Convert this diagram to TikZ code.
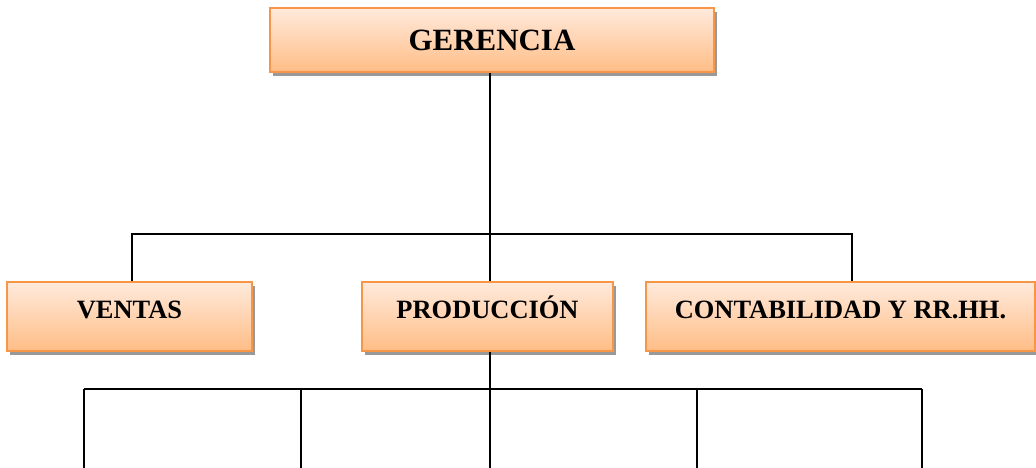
\documentclass[tikz,border=0pt]{standalone}
\usepackage{fontspec}
\setmainfont{Liberation Serif}
\usetikzlibrary{shadows}

\definecolor{borde}{HTML}{F79646}
\definecolor{claro}{HTML}{FFEADC}
\definecolor{oscuro}{HTML}{FFBD86}

\tikzset{
	unidad/.style={shape=rectangle,draw=borde,line width=1.3pt,top color=claro,bottom color=oscuro,
		drop shadow={shadow xshift=2pt,shadow yshift=-2.5pt,fill=black!40,opacity=1},
		inner sep=0pt,font=\bfseries\fontsize{18.8}{22}\selectfont,text height=0.43cm,text depth=0.35cm},
	linea/.style={draw=black,line width=1.2pt}
}

\begin{document}
\begin{tikzpicture}
	\useasboundingbox (0,0) rectangle (25.9,-11.7);

	\node [unidad,minimum width=11.1cm,minimum height=1.6cm,font=\bfseries\fontsize{22}{26}\selectfont,text height=0.51cm,text depth=0cm] (G) at (12.3,-1) {GERENCIA};
	\node [unidad,minimum width=6.125cm,minimum height=1.725cm] (V) at (3.2375,-7.9125) {VENTAS};
	\node [unidad,minimum width=6.275cm,minimum height=1.725cm] (P) at (12.1875,-7.9125) {PRODUCCIÓN};
	\node [unidad,minimum width=9.725cm,minimum height=1.725cm] (C) at (21.0125,-7.9125) {CONTABILIDAD Y RR.HH.};

	% ramas de gerencia
	\coordinate (cG) at (12.25,-5.85);
	\coordinate (cV) at (3.3,-5.85);
	\coordinate (cC) at (21.3,-5.85);
	\path [linea] (cG |- G.south) -- (cG);
	\path [linea] (cV |- V.north) -- (cV) -- (cC) -- (cC |- C.north);
	\path [linea] (cG) -- (cG |- P.north);

	% ramas de produccion
	\coordinate (cP) at (12.25,-9.725);
	\path [linea] (cP |- P.south) -- (cP);
	\foreach \x [count=\i] in {2.1,7.525,12.25,17.425,23.05} {
		\coordinate (t\i) at (\x,-9.725);
		\coordinate (s\i) at (\x,-11.7);
	}
	\path [linea] (t1) -- (t5);
	\foreach \i in {1,...,5}
		\path [linea] (t\i) -- (s\i);
\end{tikzpicture}
\end{document}
